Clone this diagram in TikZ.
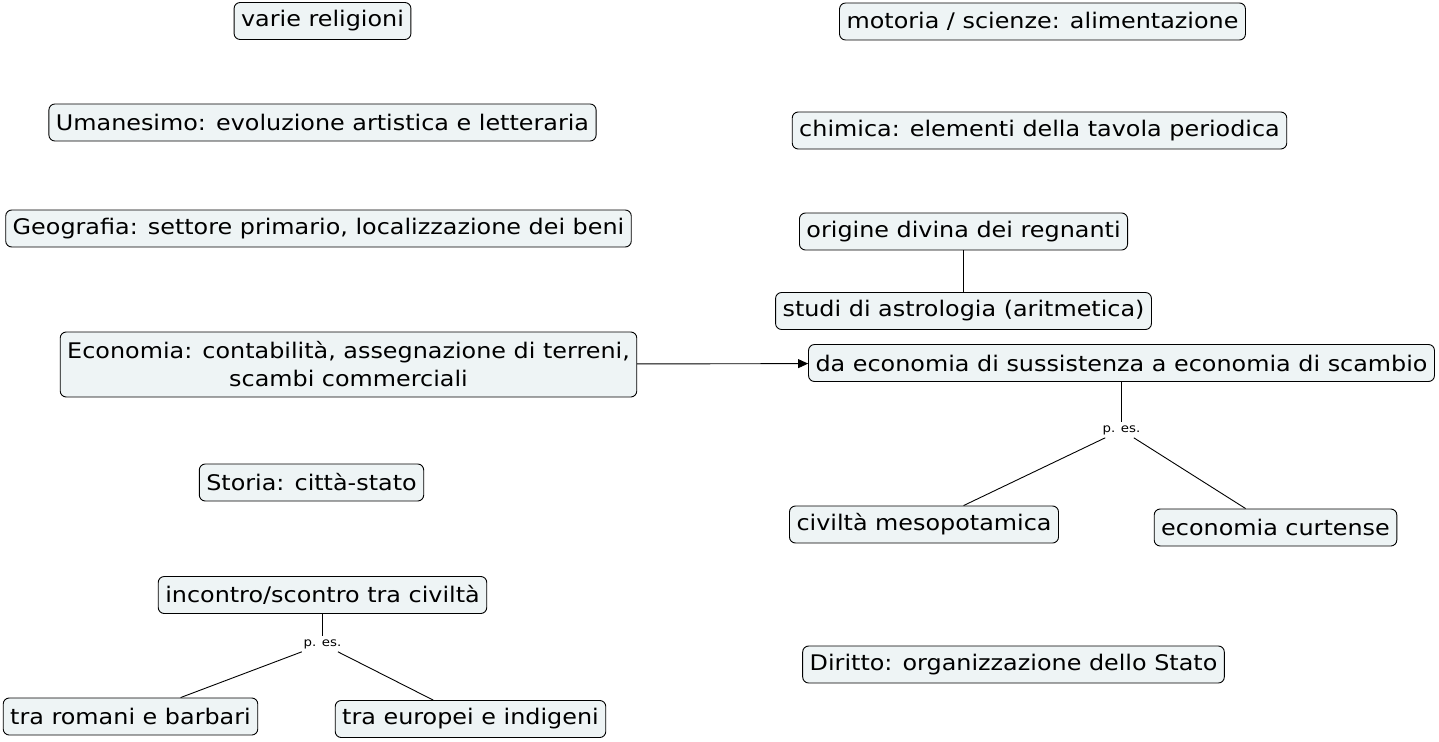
\documentclass[tikz,border=0pt]{standalone}
\usepackage{fontspec}
\setmainfont{DejaVu Sans}[FakeStretch=1.11]
\usetikzlibrary{positioning,arrows.meta}
\definecolor{sfondo}{RGB}{238,244,245}
\tikzset{
  concetto/.style={rectangle,rounded corners=6pt,draw=black,fill=sfondo,line width=0.9pt,inner xsep=7pt,inner ysep=4pt,minimum height=37pt,font=\fontsize{21.5}{28}\selectfont},
  etichetta/.style={inner sep=3pt,font=\fontsize{12}{14}\selectfont},
  linea/.style={line width=0.9pt},
  freccia/.style={-{Triangle[length=10pt,width=9pt]},line width=0.9pt},
}
\begin{document}
\begin{tikzpicture}[x=1pt,y=-1pt]
  \useasboundingbox (0,0) rectangle (1439,741);
  % colonna sinistra
  \node[concetto] (relig) at (322.5,21) {varie religioni};
  \node[concetto] (umanes) at (322.5,122.5) {Umanesimo: evoluzione artistica e letteraria};
  \node[concetto] (geogr) at (318.5,228.5) {Geografia: settore primario, localizzazione dei beni};
  \node[concetto,align=center,minimum height=65pt] (econ) at (348.5,364.5) {Economia: contabilità, assegnazione di terreni,\\scambi commerciali};
  \node[concetto] (storia) at (311.5,482.5) {Storia: città-stato};
  \node[concetto] (incontro) at (322.5,595) {incontro/scontro tra civiltà};
  \node[etichetta] (pes1) at (322.5,644) {p. es.};
  \node[concetto] (romani) at (130.5,716.5) {tra romani e barbari};
  \node[concetto] (europei) at (470.5,719) {tra europei e indigeni};
  % colonna destra
  \node[concetto] (motoria) at (1042.5,21.5) {motoria / scienze: alimentazione};
  \node[concetto] (chimica) at (1039.5,130.5) {chimica: elementi della tavola periodica};
  \node[concetto] (origine) at (963.5,231.5) {origine divina dei regnanti};
  \node[concetto] (astrol) at (963.5,311) {studi di astrologia (aritmetica)};
  \node[concetto] (sussist) at (1121.5,363) {da economia di sussistenza a economia di scambio};
  \node[etichetta] (pes2) at (1121.5,430) {p. es.};
  \node[concetto] (mesopot) at (924,524.5) {civiltà mesopotamica};
  \node[concetto] (curtense) at (1275.5,527.5) {economia curtense};
  \node[concetto] (diritto) at (1013.5,664.5) {Diritto: organizzazione dello Stato};
  % collegamenti
  \draw[linea] (incontro) -- (pes1);
  \draw[linea] (pes1) -- (romani);
  \draw[linea] (pes1) -- (europei);
  \draw[linea] (origine) -- (astrol);
  \draw[freccia] (econ) -- (sussist);
  \draw[linea] (sussist) -- (pes2);
  \draw[linea] (pes2) -- (mesopot);
  \draw[linea] (pes2) -- (curtense);
\end{tikzpicture}
\end{document}
